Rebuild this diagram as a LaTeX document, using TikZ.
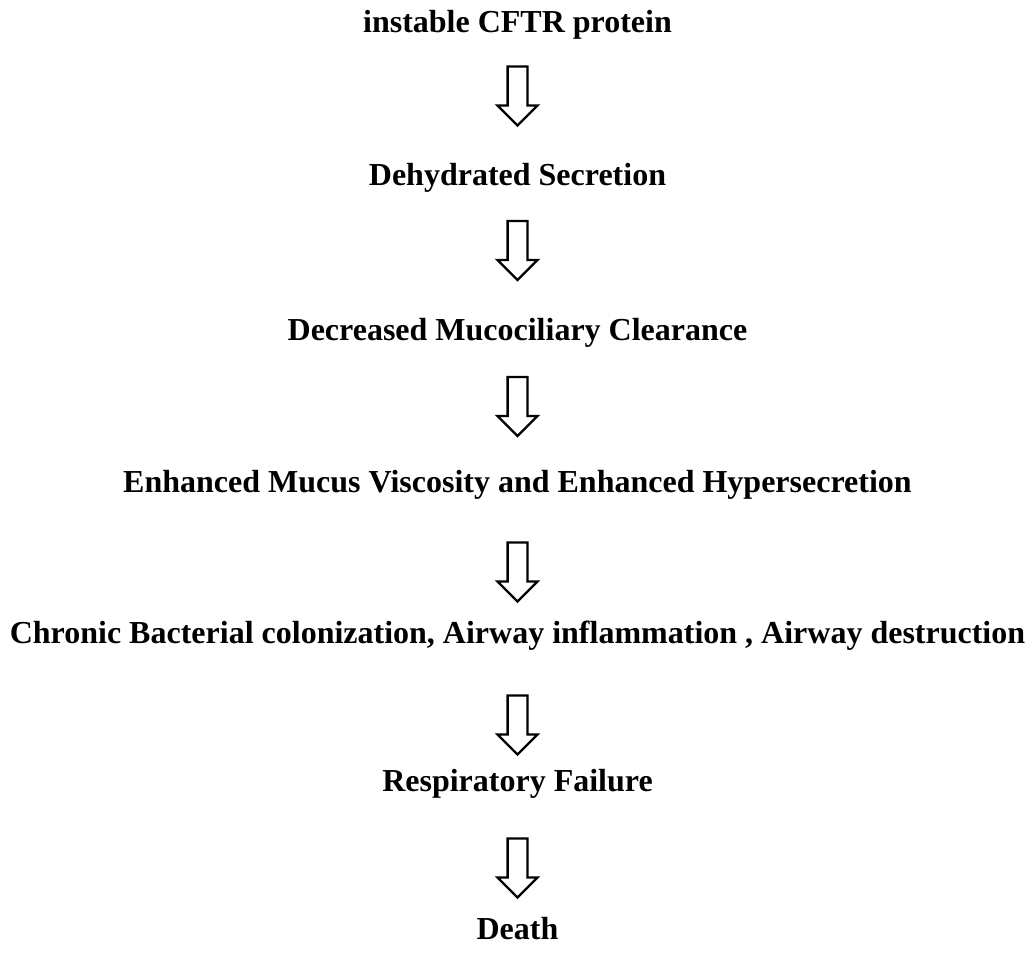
\documentclass[tikz,border=0pt]{standalone}
\usepackage{fontspec}
\setmainfont{Liberation Serif}
\usetikzlibrary{shapes.arrows, calc}
\tikzstyle{stage} = [inner sep=0pt, text height=22pt, text depth=7pt, font=\fontsize{32pt}{38pt}\selectfont\bfseries]
\tikzstyle{downarrow} = [single arrow, draw=black, line width=2.4pt, fill=white, shape border rotate=270, inner sep=8.75pt, single arrow head extend=10pt, single arrow tip angle=90, minimum height=59pt, outer sep=0pt]

\begin{document}
\begin{tikzpicture}[x=1pt, y=1pt, node distance=151pt]
    \useasboundingbox (0,0) rectangle (1031,-956);
    \node (cftr) [stage, anchor=base] at (517.5,-32) {instable CFTR protein};
    \node (dehyd) [stage, below of=cftr, yshift=-2pt] {Dehydrated Secretion};
    \node (mcc) [stage, below of=dehyd, yshift=-4pt] {Decreased Mucociliary Clearance};
    \node (mucus) [stage, below of=mcc, yshift=-1pt] {Enhanced Mucus Viscosity and Enhanced Hypersecretion};
    \node (chronic) [stage, below of=mucus, yshift=0pt] {Chronic Bacterial colonization, Airway inflammation , Airway destruction};
    \node (resp) [stage, below of=chronic, yshift=3pt] {Respiratory Failure};
    \node (death) [stage, below of=resp, yshift=3pt] {Death};
    % hollow arrows between the stages
    \node (a1) [downarrow, yshift=10pt] at ($(cftr)!0.5!(dehyd)$) {};
    \node (a2) [downarrow, yshift=9.5pt] at ($(dehyd)!0.5!(mcc)$) {};
    \node (a3) [downarrow, yshift=7pt] at ($(mcc)!0.5!(mucus)$) {};
    \node (a4) [downarrow, yshift=-7pt] at ($(mucus)!0.5!(chronic)$) {};
    \node (a5) [downarrow, yshift=-10.5pt] at ($(chronic)!0.5!(resp)$) {};
    \node (a6) [downarrow, yshift=-5.5pt] at ($(resp)!0.5!(death)$) {};
\end{tikzpicture}
\end{document}
